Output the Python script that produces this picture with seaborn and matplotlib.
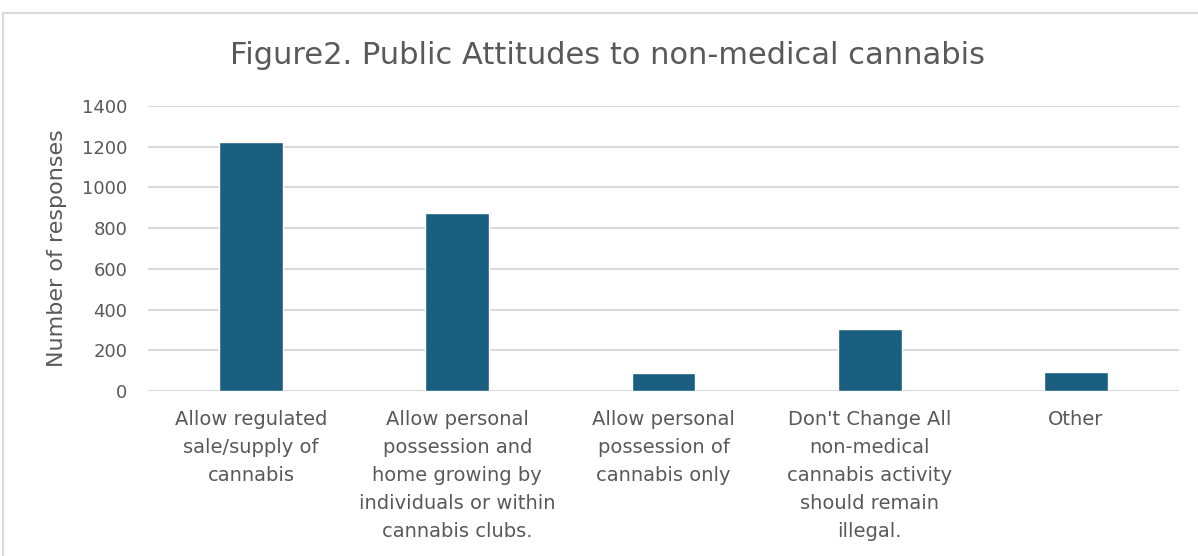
import matplotlib
matplotlib.use("Agg")
import matplotlib.pyplot as plt
import seaborn as sns
import pandas as pd
from matplotlib.patches import Rectangle

categories = [
    "Allow regulated\nsale/supply of\ncannabis",
    "Allow personal\npossession and\nhome growing by\nindividuals or within\ncannabis clubs.",
    "Allow personal\npossession of\ncannabis only",
    "Don't Change All\nnon-medical\ncannabis activity\nshould remain\nillegal.",
    "Other",
]
responses = [1222, 873, 87, 303, 92]
yticks = [0, 200, 400, 600, 800, 1000, 1200, 1400]

sns.set_theme(style="white")
plt.rcParams['font.family'] = ['DejaVu Sans']

W, H = 1198, 556
fig = plt.figure(figsize=(W / 100, H / 100), dpi=100)
ax = fig.add_axes([148 / W, 1 - 391 / H, (1179 - 148) / W, (391 - 106) / H])

df = pd.DataFrame({"cat": categories, "n": responses})
sns.barplot(data=df, x="cat", y="n", color="#1A5E80", saturation=1, width=0.31, ax=ax, zorder=3)

txt = "#595959"
ax.set_ylim(0, 1400)
ax.set_yticks(yticks)
ax.set_yticklabels([str(v) for v in yticks], fontsize=13, color=txt)
ax.grid(axis="y", color="#D9D9D9", linewidth=1.5, zorder=0)
ax.set_axisbelow(True)
for s in ax.spines.values():
    s.set_visible(False)
ax.tick_params(axis="y", length=0, pad=15)
ax.tick_params(axis="x", length=0, pad=14)
ax.set_xticks(range(len(categories)))
ax.set_xticklabels(categories, fontsize=14, color=txt, linespacing=1.6, va="top")
ax.set_xlabel("")
ax.set_ylabel("Number of responses", fontsize=16, color=txt, labelpad=11)

fig.text(608 / W, 1 - 55 / H, "Figure2. Public Attitudes to non-medical cannabis",
         ha="center", va="center", fontsize=22, color=txt)

fig.patches.append(Rectangle((3 / W, -0.1), 1.2, 1 - 13 / H + 0.1, transform=fig.transFigure,
                             fill=False, edgecolor="#D9D9D9", linewidth=1.5))

fig.savefig("out.png", dpi=100, facecolor="white")
